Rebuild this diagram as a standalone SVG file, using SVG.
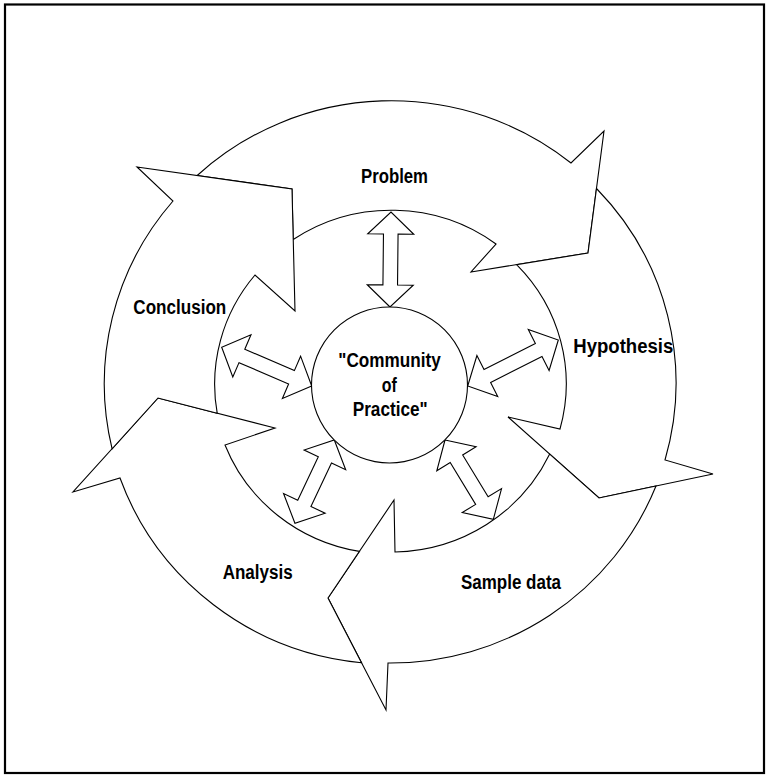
<svg xmlns="http://www.w3.org/2000/svg" width="769" height="778" viewBox="0 0 769 778">
  <style>
    .frame { fill: none; stroke: #000; stroke-width: 2.2; }
    .stage { fill: #fff; stroke: #000; stroke-width: 1.1; stroke-linejoin: miter; }
    .link { fill: #fff; stroke: #000; stroke-width: 1.1; stroke-linejoin: miter; }
    .hub { fill: #fff; stroke: #000; stroke-width: 1.1; }
    .label { font-family: "Liberation Sans Narrow", "Liberation Sans", Arial, sans-serif; font-weight: bold; font-size: 19.5px; fill: #000; }
  </style>

  <rect class="frame" x="5" y="4.5" width="759" height="768.5"/>

  <!-- cycle stages: curved block arrows running clockwise -->
  <g id="stage-problem">
    <path class="stage" d="M197.2,175.5 A286,281 0 0 1 571,163 L604,131 L588,253 L471,272 L496,244 A175.5,171 0 0 0 293.2,239.5 L292,189 Z"/>
    <text class="label" x="361" y="183" textLength="67" lengthAdjust="spacingAndGlyphs">Problem</text>
  </g>
  <g id="stage-hypothesis">
    <path class="stage" d="M596.5,188.5 A286,281 0 0 1 665,460 L713,474 L599,498 L508,417 L560,429 A175.5,171 0 0 0 516.6,264.6 L588,253 Z"/>
    <text class="label" x="573.3" y="353.3" textLength="100" lengthAdjust="spacingAndGlyphs">Hypothesis</text>
  </g>
  <g id="stage-sample">
    <path class="stage" d="M656,486 A286,281 0 0 1 388,663 L386,710 L328,598 L394,500 L395,552 A175.5,171 0 0 0 549.7,454.1 L599,498 Z"/>
    <text class="label" x="461" y="589.3" textLength="100" lengthAdjust="spacingAndGlyphs">Sample data</text>
  </g>
  <g id="stage-analysis">
    <path class="stage" d="M361.5,662.7 A286,281 0 0 1 120,478 L73,492 L158,398 L275,428 L225,445 A175.5,171 0 0 0 359.4,551.4 L328,598 Z"/>
    <text class="label" x="222.7" y="579.3" textLength="70" lengthAdjust="spacingAndGlyphs">Analysis</text>
  </g>
  <g id="stage-conclusion">
    <path class="stage" d="M112.1,448.8 A286,281 0 0 1 173,201 L137,167 L292,189 L295,311 L255,275 A175.5,171 0 0 0 217.2,413.2 L158,398 Z"/>
    <text class="label" x="133.3" y="314.3" textLength="93" lengthAdjust="spacingAndGlyphs">Conclusion</text>
  </g>

  <!-- two-way links between the hub and each stage -->
  <g id="links">
    <path class="link" transform="translate(390,307) rotate(-89.4)" d="M0,0 L22,-23 L22,-7.3 L73,-7.3 L73,-23 L95,0 L73,23 L73,7.3 L22,7.3 L22,23 Z"/>
    <path class="link" transform="translate(467.7,386) rotate(-26.9)" d="M0,0 L22,-23 L22,-7.3 L79.6,-7.3 L79.6,-23 L101.6,0 L79.6,23 L79.6,7.3 L22,7.3 L22,23 Z"/>
    <path class="link" transform="translate(311.7,386) rotate(-156.7)" d="M0,0 L22,-23 L22,-7.3 L76,-7.3 L76,-23 L98,0 L76,23 L76,7.3 L22,7.3 L22,23 Z"/>
    <path class="link" transform="translate(334.3,440) rotate(115.3)" d="M0,0 L22,-23 L22,-7.3 L70.1,-7.3 L70.1,-23 L92.1,0 L70.1,23 L70.1,7.3 L22,7.3 L22,23 Z"/>
    <path class="link" transform="translate(445,440) rotate(58.65)" d="M0,0 L22,-23 L22,-7.3 L70.9,-7.3 L70.9,-23 L92.9,0 L70.9,23 L70.9,7.3 L22,7.3 L22,23 Z"/>
  </g>

  <!-- hub -->
  <g id="hub">
    <circle class="hub" cx="389.5" cy="385" r="78"/>
    <text class="label" x="338.3" y="367.3" textLength="102.4" lengthAdjust="spacingAndGlyphs">"Community</text>
    <text class="label" x="381.7" y="391.7" textLength="15" lengthAdjust="spacingAndGlyphs">of</text>
    <text class="label" x="352.7" y="415.7" textLength="75" lengthAdjust="spacingAndGlyphs">Practice"</text>
  </g>
</svg>
